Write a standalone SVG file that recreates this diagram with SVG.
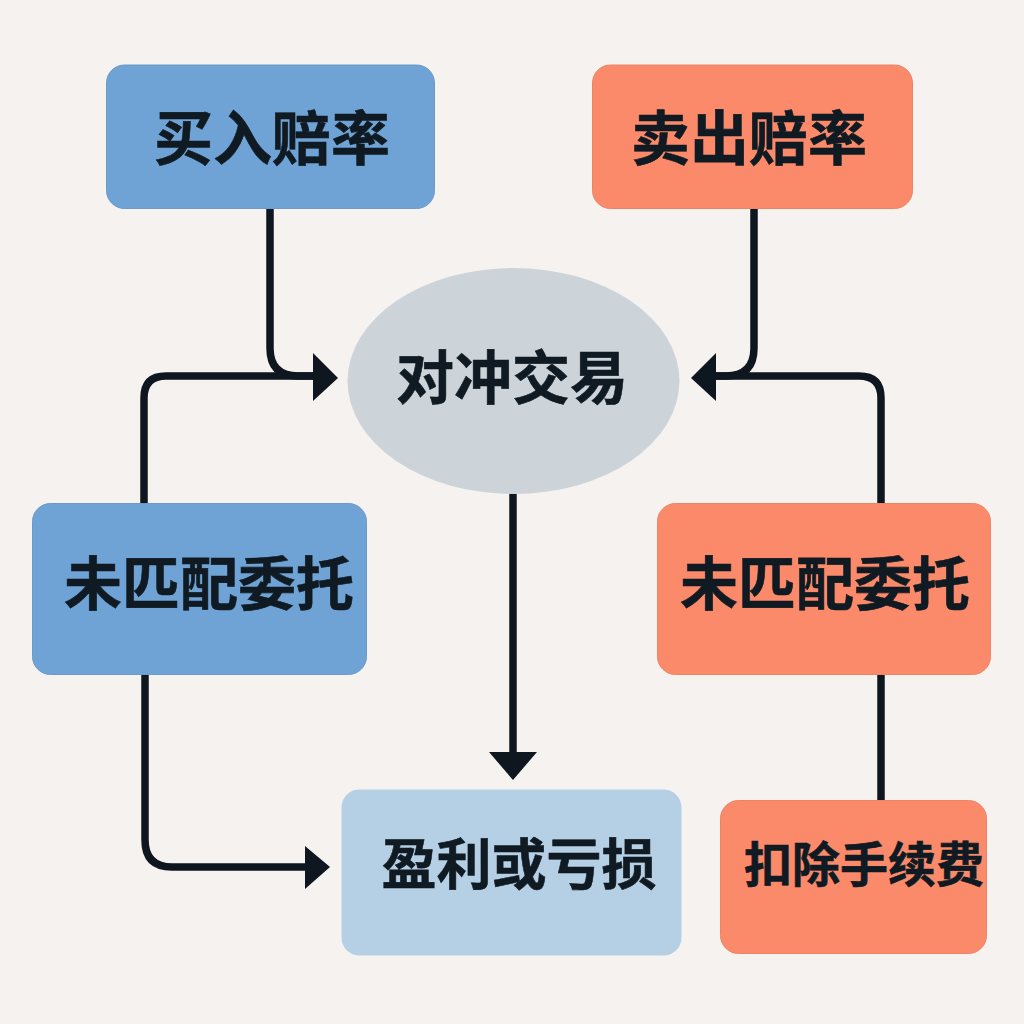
<svg xmlns="http://www.w3.org/2000/svg" width="1024" height="1024" viewBox="0 0 1024 1024">
<style>
.t{font-family:"Noto Sans CJK SC","Noto Sans",sans-serif;font-weight:700;fill:#101a22;stroke:#101a22;stroke-width:.6;text-anchor:middle}
.c{fill:none;stroke:#0e171f;stroke-width:7.500}
.a{fill:#0e171f}
.b{fill:#6fa3d5;stroke:#6a9bcb;stroke-width:1}.o{fill:#fb8a6b;stroke:#ee8466;stroke-width:1}
</style>
<rect width="1024" height="1024" fill="#f6f2ef"/>
<g id="connectors">
<path class="c" d="M270 208V348Q270 376 298 376H320"/>
<path class="c" d="M144 504V398Q144 376 166 376H320"/>
<polygon class="a" points="313,353 338,378 313,401"/>
<path class="c" d="M754 208V348Q754 376 726 376H708"/>
<path class="c" d="M881 504V398Q881 376 859 376H708"/>
<polygon class="a" points="716,353 691,378 716,401"/>
<path class="c" d="M513 494V760"/>
<polygon class="a" points="489,752 537,752 513,780"/>
<path class="c" d="M145 675V840Q145 867 172 867H312"/>
<polygon class="a" points="305,846 330,867 305,889"/>
<path class="c" d="M881 675V800"/>
</g>
<g id="buy"><rect class="b" x="106.500" y="65" width="328" height="143.500" rx="18"/><text class="t" x="272" y="160" font-size="59">买入赔率</text></g>
<g id="sell"><rect class="o" x="592.500" y="65" width="320" height="143.500" rx="18"/><text class="t" x="749" y="160" font-size="59">卖出赔率</text></g>
<g id="hedge"><ellipse cx="513.500" cy="381" rx="166" ry="113" fill="#cdd4d9"/><text class="t" x="512" y="399" font-size="58">对冲交易</text></g>
<g id="unmatched-left"><rect class="b" x="32.500" y="503.500" width="334" height="171" rx="18"/><text class="t" x="209" y="605" font-size="58">未匹配委托</text></g>
<g id="unmatched-right"><rect class="o" x="657.500" y="503.500" width="333" height="171" rx="18"/><text class="t" x="825" y="605" font-size="58">未匹配委托</text></g>
<g id="profit"><rect x="341.500" y="789.500" width="340" height="166" rx="18" fill="#b5cfe4"/><text class="t" x="519" y="884" font-size="55">盈利或亏损</text></g>
<g id="fee"><rect class="o" x="720.500" y="800.500" width="266" height="153" rx="18"/><text class="t" x="864" y="882" font-size="48">扣除手续费</text></g>
</svg>
